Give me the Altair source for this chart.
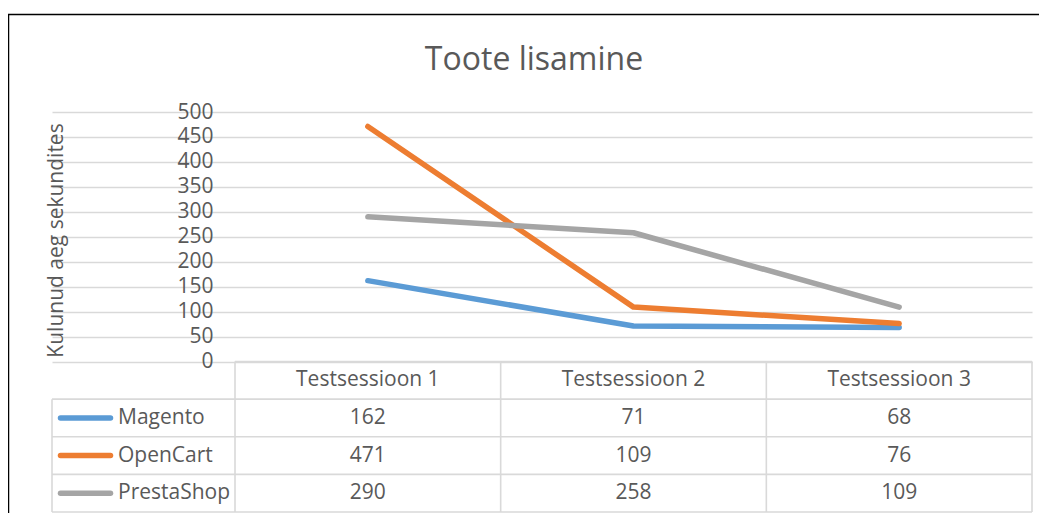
import altair as alt
import pandas as pd

# ---- data ----
title_text = "Toote lisamine"
y_title = "Kulunud aeg sekundites"
sessions = ["Testsessioon 1", "Testsessioon 2", "Testsessioon 3"]
series = ["Magento", "OpenCart", "PrestaShop"]
magento = [162, 71, 68]
opencart = [471, 109, 76]
prestashop = [290, 258, 109]
colors = ["#5B9BD5", "#ED7D31", "#A5A5A5"]
y_ticks = [0, 50, 100, 150, 200, 250, 300, 350, 400, 450, 500]

values = {"Magento": magento, "OpenCart": opencart, "PrestaShop": prestashop}

recs = []
for si, s in enumerate(series):
    for ci, c in enumerate(sessions):
        recs.append({"series": s, "session": c, "col": ci, "row": si + 1,
                     "value": values[s][ci]})
df = pd.DataFrame(recs)
df["xc"] = df["col"] + 0.5
df["yc"] = -(df["row"] + 0.5)

hdr = pd.DataFrame({"session": sessions, "xc": [i + 0.5 for i in range(len(sessions))]})
hdr["yc"] = -0.5

leg = pd.DataFrame({"series": series, "row": [i + 1 for i in range(len(series))]})
leg["yc"] = -(leg["row"] + 0.5)
leg["x0"] = -1

n_rows = len(series) + 1
hl = pd.DataFrame([{"y": -r, "x1": (0 if r == 0 else -1), "x2": len(sessions)}
                   for r in range(n_rows + 1)])
vl = pd.DataFrame([{"x": c, "y1": 0, "y2": -n_rows} for c in range(len(sessions) + 1)]
                  + [{"x": -1, "y1": -1, "y2": -n_rows}])

# ---- styling ----
W, H = 797, 400
FONT = "Open Sans"
TXT = "#595959"
GRID = "#D9D9D9"

xs = alt.Scale(domain=[-1, 0, len(sessions)], range=[-183, 0, W], zero=False, nice=False)
ys = alt.Scale(domain=[-n_rows, 0, 500], range=[400, 249.5, 0], zero=False, nice=False)
cs = alt.Scale(domain=series, range=colors)

border = alt.Chart(alt.Data(values=[{}])).mark_rect(
    fillOpacity=0, stroke="black", strokeWidth=1.5
).encode(x=alt.value(-226.5), x2=alt.value(900), y=alt.value(-97.5), y2=alt.value(700))

hrules = alt.Chart(hl).mark_rule(color=GRID, strokeWidth=1.6).encode(
    x=alt.X("x1:Q", scale=xs, axis=None), x2="x2:Q",
    y=alt.Y("y:Q", scale=ys, axis=None))

vrules = alt.Chart(vl).mark_rule(color=GRID, strokeWidth=1.6).encode(
    x=alt.X("x:Q", scale=xs, axis=None),
    y=alt.Y("y1:Q", scale=ys, axis=None), y2="y2:Q")

lines = alt.Chart(df).mark_line(strokeWidth=5.5, strokeCap="round", strokeJoin="round").encode(
    x=alt.X("xc:Q", scale=xs, axis=None),
    y=alt.Y("value:Q", scale=ys, axis=alt.Axis(
        values=y_ticks, title=y_title, grid=True, gridColor=GRID, gridWidth=1.3,
        domain=False, ticks=False, labelFont=FONT, labelFontSize=21, labelColor=TXT,
        labelPadding=22, titleFont=FONT, titleFontSize=21, titleColor=TXT,
        titleFontWeight="normal", titleX=-173, titleY=128, titleAngle=-90,
        titleAlign="center", titleBaseline="alphabetic")),
    color=alt.Color("series:N", scale=cs, legend=None),
    detail="series:N",
)

hdr_text = alt.Chart(hdr).mark_text(font=FONT, fontSize=21, color=TXT, baseline="middle").encode(
    x=alt.X("xc:Q", scale=xs, axis=None),
    y=alt.Y("yc:Q", scale=ys, axis=None),
    text="session:N")

val_text = alt.Chart(df).mark_text(font=FONT, fontSize=21, color=TXT, baseline="middle").encode(
    x=alt.X("xc:Q", scale=xs, axis=None),
    y=alt.Y("yc:Q", scale=ys, axis=None),
    text="value:Q")

leg_text = alt.Chart(leg).mark_text(font=FONT, fontSize=21, color=TXT, baseline="middle",
                                     align="left", dx=66).encode(
    x=alt.X("x0:Q", scale=xs, axis=None),
    y=alt.Y("yc:Q", scale=ys, axis=None),
    text="series:N")

leg_swatch = alt.Chart(leg).mark_rule(strokeWidth=5.5, strokeCap="round",
                                      xOffset=8.5, x2Offset=58.5).encode(
    x=alt.X("x0:Q", scale=xs, axis=None), x2="x0:Q",
    y=alt.Y("yc:Q", scale=ys, axis=None),
    color=alt.Color("series:N", scale=cs, legend=None))

chart = alt.layer(
    border, lines, hrules, vrules, hdr_text, val_text, leg_text, leg_swatch
).resolve_scale(y="independent", x="independent").properties(
    width=W, height=H,
    title=alt.TitleParams(text=title_text, font=FONT, fontSize=32, color=TXT,
                          fontWeight="normal", anchor="middle", frame="group",
                          dx=-99.5, dy=88, baseline="alphabetic", offset=0),
    autosize=alt.AutoSizeParams(type="none"),
    padding={"left": 227, "top": 104, "right": 7, "bottom": 1},
    background="white",
).configure_view(stroke=None)

chart.save("out.html", embed_options={"renderer": "svg", "actions": False})
